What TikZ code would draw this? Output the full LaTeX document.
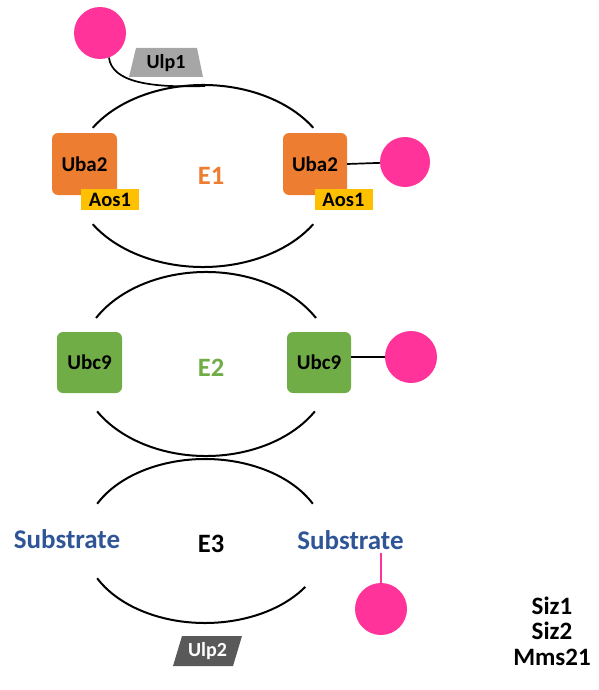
\documentclass[tikz,border=0pt]{standalone}
\usepackage{fontspec}
\setmainfont{Carlito}
\definecolor{sumo}{HTML}{FF3399}
\definecolor{eorange}{HTML}{ED7D31}
\definecolor{egreen}{HTML}{70AD47}
\definecolor{aosyellow}{HTML}{FFC000}
\definecolor{subblue}{HTML}{2F5597}
\definecolor{ulpgray}{HTML}{A6A6A6}
\definecolor{ulpdark}{HTML}{595959}
\begin{document}
\begin{tikzpicture}[x=1pt,y=-1pt,
  arcline/.style={draw=black,line width=2pt},
  sumoball/.style={circle,fill=sumo,draw=none,minimum size=52pt,inner sep=0pt},
  enzbox/.style={rounded corners=6pt,inner sep=0pt,font=\fontsize{21pt}{24pt}\selectfont\bfseries},
  aosbox/.style={fill=aosyellow,inner sep=0pt,minimum width=58pt,minimum height=21pt,font=\fontsize{20.5pt}{22pt}\selectfont\bfseries},
  elabel/.style={font=\fontsize{26.5pt}{30pt}\selectfont\bfseries},
  sublabel/.style={text=subblue,font=\fontsize{27pt}{30pt}\selectfont\bfseries},
  ulplabel/.style={font=\fontsize{20pt}{22pt}\selectfont\bfseries,inner sep=0pt},
  link/.style={draw=black,line width=1.7pt}]
\useasboundingbox (0,0) rectangle (599,690);

% E1 ellipse arcs
\draw[arcline] (203,176) ++(212:130 and 91) arc[start angle=212,end angle=328,x radius=130,y radius=91];
\draw[arcline] (203,176) ++(32:130 and 91) arc[start angle=32,end angle=148,x radius=130,y radius=91];
% E2 ellipse arcs
\draw[arcline] (206,364) ++(210:127 and 92) arc[start angle=210,end angle=330,x radius=127,y radius=92];
\draw[arcline] (206,364) ++(31:127 and 92) arc[start angle=31,end angle=149,x radius=127,y radius=92];
% E3 ellipse arcs
\draw[arcline] (205,541) ++(207:121 and 82) arc[start angle=207,end angle=333,x radius=121,y radius=82];
\draw[arcline] (205,541) ++(34:121 and 82) arc[start angle=34,end angle=153,x radius=121,y radius=82];

% Ulp1
\fill[ulpgray] (136,48) -- (197,48) -- (203,77) -- (129,77) -- cycle;
\node[ulplabel] (ulp1) at (166,63) {Ulp1};
\node[sumoball] (sumo0) at (100,33) {};
\coordinate (tailend) at (205,86);
\draw[link] (sumo0.290) .. controls (112,82) and (150,88) .. (tailend);

% Uba2 / Aos1
\node[enzbox,fill=eorange,minimum width=65pt,minimum height=62pt] (uba2l) at (84.5,164) {Uba2};
\node[aosbox] (aos1l) at (110,199.5) {Aos1};
\node[enzbox,fill=eorange,minimum width=64pt,minimum height=62pt] (uba2r) at (315,164) {Uba2};
\node[aosbox] (aos1r) at (343.5,199.5) {Aos1};
\node[sumoball,minimum size=50pt] (sumo1) at (405,162) {};
\draw[link] (uba2r.east) -- (sumo1);
\node[elabel,text=eorange] (e1) at (211,176) {E1};

% Ubc9
\node[enzbox,fill=egreen,minimum width=65pt,minimum height=61pt] (ubc9l) at (89.5,362.5) {Ubc9};
\node[enzbox,fill=egreen,minimum width=64pt,minimum height=61pt] (ubc9r) at (319,362.5) {Ubc9};
\node[sumoball] (sumo2) at (411,357) {};
\draw[link] (ubc9r.east |- sumo2) -- (sumo2);
\node[elabel,text=egreen] (e2) at (211,368) {E2};

% E3
\node[sublabel] (subl) at (67,539) {Substrate};
\node[sublabel] (subr) at (350.5,540) {Substrate};
\node[elabel] (e3) at (211,544) {E3};
\node[sumoball] (sumo3) at (381,609) {};
\coordinate (subtail) at (381,553);
\draw[sumo,line width=1.7pt] (subtail) -- (sumo3);

% Ulp2
\fill[ulpdark] (182,636) -- (242,636) -- (233,666) -- (173,666) -- cycle;
\node[ulplabel,text=white] (ulp2) at (207.5,651) {Ulp2};

% E3 ligases
\node[font=\fontsize{25pt}{25.5pt}\selectfont\bfseries,align=center] (e3list) at (552,631) {Siz1\\Siz2\\Mms21};
\end{tikzpicture}
\end{document}
